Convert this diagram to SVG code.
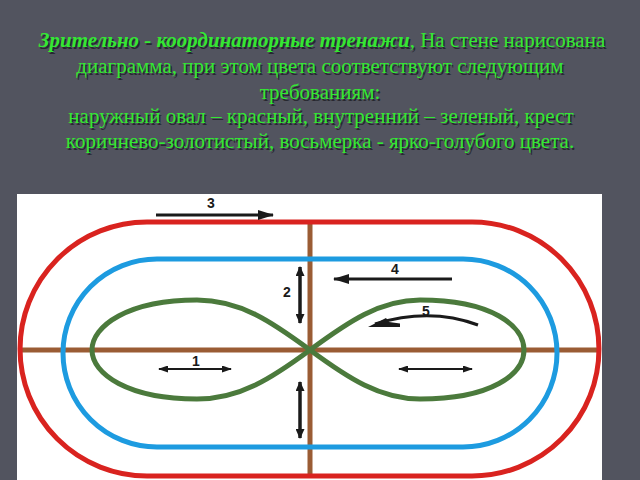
<svg xmlns="http://www.w3.org/2000/svg" width="640" height="480" viewBox="0 0 640 480">
<style>
.t{font-family:"Liberation Serif","Times New Roman",serif;font-size:21px;text-anchor:middle}
.tx{fill:#33e833}
.sh{fill:#1c1d24;opacity:0.8}
.bi{font-weight:bold;font-style:italic}
.track{fill:none;stroke-width:5}
.lbl{font-family:"Liberation Sans",Arial,sans-serif;font-weight:bold;font-size:14px;fill:#1a1a1a;text-anchor:middle}
.ar{stroke:#1a1a1a;fill:none}
.hd{fill:#1a1a1a}
</style>
<defs>
<marker id="ahL" viewBox="0 0 16 10" refX="15" refY="5" markerWidth="16" markerHeight="10" markerUnits="userSpaceOnUse" orient="auto-start-reverse">
<path d="M0,0 L16,5 L0,10 Z" class="hd"/>
</marker>
<marker id="ahM" viewBox="0 0 10 9" refX="9" refY="4.5" markerWidth="10" markerHeight="9" markerUnits="userSpaceOnUse" orient="auto-start-reverse">
<path d="M0,0 L10,4.5 L0,9 Z" class="hd"/>
</marker>
<marker id="ahS" viewBox="0 0 10 7" refX="9" refY="3.5" markerWidth="10" markerHeight="7" markerUnits="userSpaceOnUse" orient="auto-start-reverse">
<path d="M0,0 L10,3.5 L0,7 Z" class="hd"/>
</marker>
</defs>
<rect x="0" y="0" width="640" height="480" fill="#52545f"/>
<g id="title">
<g class="t sh" transform="translate(1.5,1.5)">
<text x="322" y="47"><tspan class="bi">Зрительно - координаторные тренажи</tspan>, На стене нарисована</text>
<text x="320" y="73">диаграмма, при этом цвета соответствуют следующим</text>
<text x="320" y="99">требованиям:</text>
<text x="321" y="123">наружный овал – красный, внутренний – зеленый, крест</text>
<text x="320" y="148">коричнево-золотистый, восьмерка - ярко-голубого цвета.</text>
</g>
<g class="t tx">
<text x="322" y="47"><tspan class="bi">Зрительно - координаторные тренажи</tspan>, На стене нарисована</text>
<text x="320" y="73">диаграмма, при этом цвета соответствуют следующим</text>
<text x="320" y="99">требованиям:</text>
<text x="321" y="123">наружный овал – красный, внутренний – зеленый, крест</text>
<text x="320" y="148">коричнево-золотистый, восьмерка - ярко-голубого цвета.</text>
</g>
</g>
<rect id="panel" x="17" y="194" width="585" height="286" fill="#ffffff"/>
<g id="cross">
<line x1="20" y1="350" x2="599" y2="350" stroke="#9a5c34" stroke-width="5"/>
<line x1="310" y1="222" x2="310" y2="476" stroke="#9a5c34" stroke-width="5"/>
</g>
<g id="outer-oval">
<path class="track" stroke="#d9231f" d="M147,222 H472 A127,127 0 0 1 472,476 H147 A127,127 0 0 1 147,222 Z"/>
</g>
<g id="inner-oval">
<path class="track" stroke="#1d9be0" d="M157,259 H463 A94,94 0 0 1 463,447 H157 A94,94 0 0 1 157,259 Z"/>
</g>
<g id="figure-eight">
<path class="track" stroke="#4b7a3c" d="M310,350 C272,322 240,300 197,300 C128,300 92,326 92,350 C92,374 128,399 197,399 C240,399 272,378 310,350 C348,322 380,300 420,300 C492,300 524,326 524,350 C524,374 492,399 420,399 C380,399 348,378 310,350 Z"/>
</g>
<g id="connectors">
<line class="ar" x1="156" y1="215" x2="273" y2="215" stroke-width="3" marker-end="url(#ahL)"/>
<line class="ar" x1="452" y1="279" x2="334" y2="279" stroke-width="3" marker-end="url(#ahL)"/>
<line class="ar" x1="300" y1="267" x2="300" y2="323" stroke-width="3.5" marker-start="url(#ahM)" marker-end="url(#ahM)"/>
<line class="ar" x1="300" y1="382" x2="300" y2="438" stroke-width="3.5" marker-start="url(#ahM)" marker-end="url(#ahM)"/>
<line class="ar" x1="159" y1="369" x2="231" y2="369" stroke-width="2.2" marker-start="url(#ahS)" marker-end="url(#ahS)"/>
<line class="ar" x1="399" y1="369" x2="472" y2="369" stroke-width="2.2" marker-start="url(#ahS)" marker-end="url(#ahS)"/>
<path class="ar" stroke-width="3" d="M478,325 Q430,307 375,324"/>
<path class="hd" d="M368,327 L386,318 L389,322 L400,323.5 L400,327 Z"/>
</g>
<g id="labels">
<text class="lbl" x="211" y="208">3</text>
<text class="lbl" x="395" y="274">4</text>
<text class="lbl" x="287" y="297">2</text>
<text class="lbl" x="196" y="366">1</text>
<text class="lbl" x="426" y="316">5</text>
</g>
</svg>
